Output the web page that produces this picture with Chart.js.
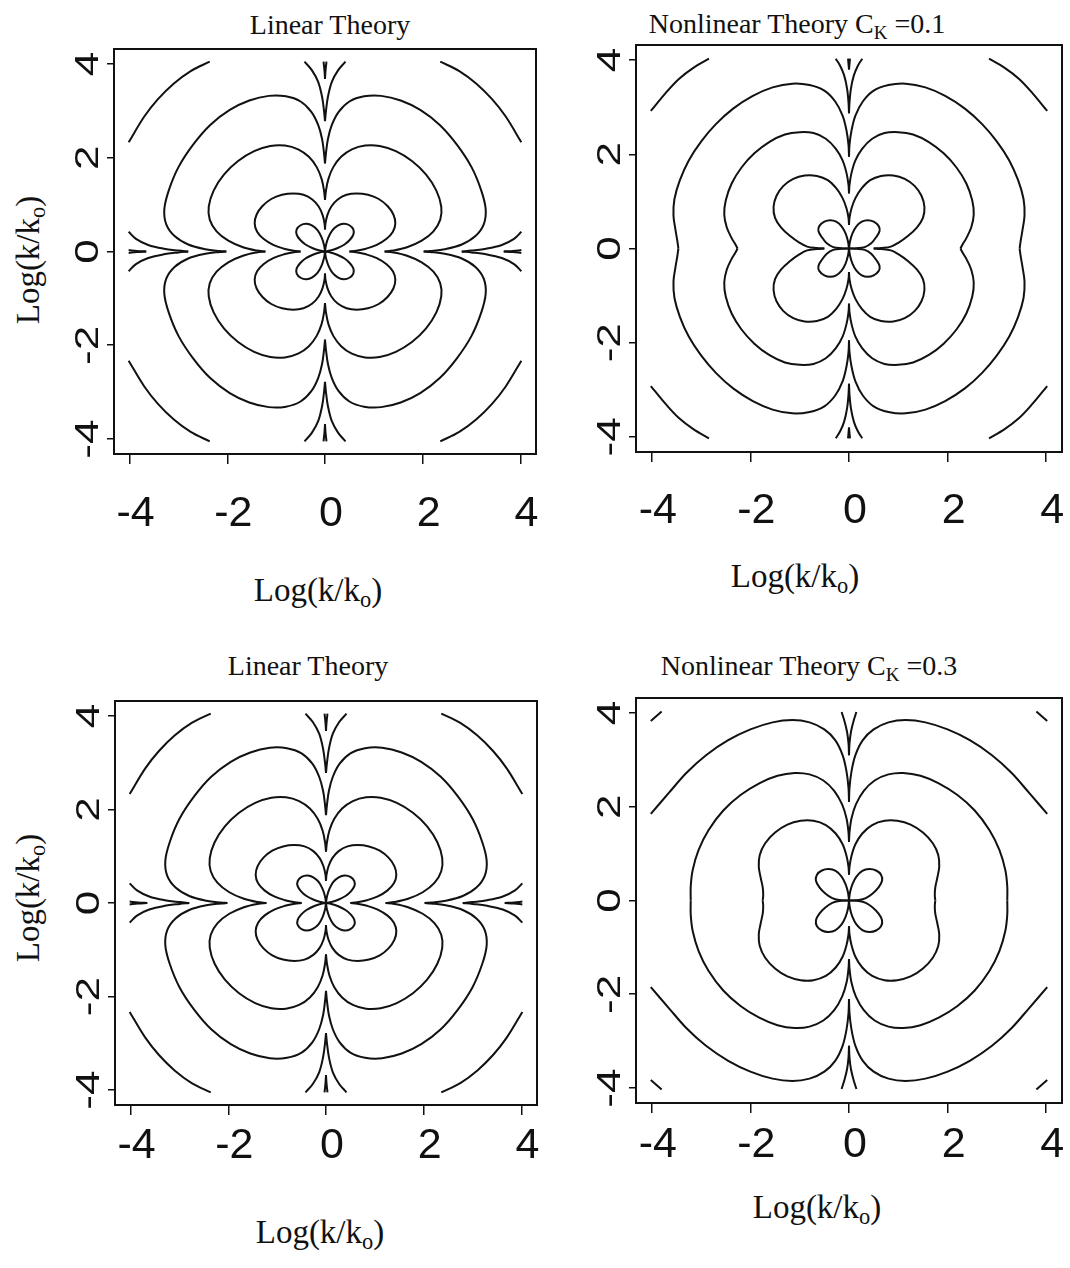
<!DOCTYPE html>
<html>
<head>
<meta charset="utf-8">
<script src="https://cdn.jsdelivr.net/npm/chart.js@4.4.1/dist/chart.umd.min.js"></script>
<style>
  body { margin: 0; background: #fff; width: 1070px; height: 1268px; position: relative; overflow: hidden;
         font-family: "Liberation Serif", "Times New Roman", serif; color: #111; }
  canvas { position: absolute; }
  .lbl { position: absolute; font-size: 28px; line-height: 1; white-space: nowrap; transform: translate(-50%, -50%); }
  .lbl sub { font-size: 0.68em; vertical-align: -0.3em; line-height: 0; }
  .ax { font-size: 33px; }
  .rot { transform: translate(-50%, -50%) rotate(-90deg); }
</style>
</head>
<body>

<div class="lbl" style="left:330px; top:25px">Linear Theory</div>
<div class="lbl" style="left:797px; top:24px">Nonlinear Theory C<sub>K</sub> =0.1</div>
<div class="lbl" style="left:308px; top:666px">Linear Theory</div>
<div class="lbl" style="left:809px; top:666px">Nonlinear Theory C<sub>K</sub> =0.3</div>

<div class="lbl ax" style="left:318px; top:590px">Log(k/k<sub>o</sub>)</div>
<div class="lbl ax" style="left:795px; top:576px">Log(k/k<sub>o</sub>)</div>
<div class="lbl ax" style="left:320px; top:1232px">Log(k/k<sub>o</sub>)</div>
<div class="lbl ax" style="left:817px; top:1207px">Log(k/k<sub>o</sub>)</div>
<div class="lbl ax rot" style="left:28px; top:260px">Log(k/k<sub>o</sub>)</div>
<div class="lbl ax rot" style="left:28px; top:898px">Log(k/k<sub>o</sub>)</div>

<canvas id="c1"></canvas>
<canvas id="c2"></canvas>
<canvas id="c3"></canvas>
<canvas id="c4"></canvas>

<script>
const tickValues = [-4, -2, 0, 2, 4];
const tickLabels = ['-4', '-2', '0', '2', '4'];
const axisMin = -4.32;
const axisMax = 4.32;

// Contour lines, upper-right quadrant only; the plots are mirror symmetric
// about both axes so the other three quadrants are flipped copies.

// linear theory
const linPetal = [[0,0],[0.02,0.14],[0.07,0.3],[0.15,0.45],[0.26,0.55],[0.38,0.59],[0.5,0.56],[0.58,0.47],[0.58,0.36],[0.51,0.25],[0.4,0.15],[0.25,0.07],[0.11,0.02],[0,0]];
const linLobe2 = [[0,0.47],[0.01,0.6],[0.05,0.78],[0.13,0.96],[0.26,1.11],[0.44,1.21],[0.65,1.24],[0.88,1.21],[1.1,1.12],[1.28,0.97],[1.4,0.79],[1.44,0.6],[1.39,0.42],[1.26,0.27],[1.06,0.14],[0.84,0.06],[0.64,0.015],[0.5,0]];
const linLobe3 = [[0,1.1],[0.02,1.3],[0.07,1.55],[0.17,1.8],[0.33,2.02],[0.55,2.18],[0.82,2.26],[1.12,2.25],[1.45,2.14],[1.78,1.93],[2.07,1.64],[2.28,1.3],[2.38,0.96],[2.36,0.68],[2.22,0.43],[1.98,0.23],[1.68,0.09],[1.4,0.02],[1.22,0]];
const linLobe4 = [[0,1.88],[0.02,2.1],[0.06,2.4],[0.14,2.7],[0.28,2.98],[0.5,3.2],[0.8,3.31],[1.15,3.32],[1.55,3.22],[1.95,3.02],[2.35,2.7],[2.7,2.28],[3.0,1.8],[3.2,1.3],[3.29,0.9],[3.25,0.58],[3.08,0.33],[2.8,0.15],[2.45,0.05],[2.15,0.01],[2.02,0]];
const linCuspV = [[0,2.78],[0.02,3.0],[0.06,3.3],[0.14,3.62],[0.27,3.87],[0.42,4.05]];
const linCuspH = [[2.8,0],[3.0,0.02],[3.3,0.06],[3.62,0.14],[3.87,0.27],[4.02,0.42]];
const linArc = [[2.36,4.05],[2.75,3.85],[3.1,3.58],[3.42,3.25],[3.7,2.88],[4.02,2.33]];
const linTipV = [[0,3.68],[0.01,3.85],[0.03,4.05]];
const linTipH = [[3.66,0],[3.85,0.01],[4.02,0.03]];

// nonlinear theory, C_K = 0.1
const nl1Petal = [[0,0],[0.02,0.15],[0.07,0.32],[0.15,0.47],[0.26,0.57],[0.38,0.6],[0.5,0.57],[0.6,0.48],[0.62,0.37],[0.55,0.24],[0.45,0.11],[0.32,0.03],[0.15,0.006],[0,0]];
const nl1Lobe2 = [[0,0.5],[0.01,0.65],[0.05,0.85],[0.13,1.07],[0.26,1.28],[0.43,1.45],[0.65,1.54],[0.9,1.55],[1.13,1.48],[1.33,1.33],[1.47,1.12],[1.53,0.88],[1.5,0.65],[1.38,0.45],[1.2,0.27],[1.0,0.12],[0.85,0.04],[0.65,0.01],[0.5,0]];
const nl1Lobe3 = [[0,1.17],[0.01,1.35],[0.05,1.6],[0.13,1.87],[0.27,2.12],[0.47,2.33],[0.72,2.45],[1.0,2.47],[1.3,2.42],[1.62,2.26],[1.92,2.02],[2.18,1.72],[2.38,1.38],[2.5,1.02],[2.53,0.72],[2.48,0.45],[2.38,0.22],[2.3,0.08],[2.26,0]];
const nl1Lobe4 = [[0,1.95],[0.01,2.2],[0.05,2.5],[0.13,2.82],[0.28,3.12],[0.5,3.35],[0.8,3.47],[1.15,3.5],[1.55,3.42],[1.95,3.24],[2.35,2.97],[2.7,2.64],[3.0,2.27],[3.25,1.87],[3.43,1.45],[3.54,1.05],[3.56,0.7],[3.52,0.4],[3.48,0.15],[3.46,0]];
const nl1CuspV = [[0,2.87],[0.01,3.1],[0.04,3.4],[0.1,3.68],[0.18,3.88],[0.27,4.03]];
const nl1Arc = [[2.84,4.03],[3.15,3.84],[3.45,3.6],[3.72,3.3],[4.02,2.92]];
const nl1TipV = [[0,3.8],[0.01,3.92],[0.02,4.03]];

// nonlinear theory, C_K = 0.3
const nl3Petal = [[0,0],[0.02,0.17],[0.07,0.35],[0.15,0.51],[0.27,0.63],[0.41,0.67],[0.55,0.64],[0.65,0.55],[0.67,0.42],[0.6,0.28],[0.48,0.15],[0.34,0.05],[0.2,0.01],[0,0]];
const nl3Lobe2 = [[0,0.55],[0.01,0.72],[0.05,0.95],[0.13,1.2],[0.27,1.43],[0.47,1.61],[0.72,1.7],[0.98,1.7],[1.25,1.62],[1.5,1.45],[1.7,1.22],[1.81,0.97],[1.83,0.72],[1.79,0.48],[1.75,0.28],[1.74,0.12],[1.75,0]];
const nl3Lobe3 = [[0,1.25],[0.01,1.45],[0.05,1.75],[0.14,2.05],[0.3,2.34],[0.52,2.56],[0.8,2.69],[1.1,2.72],[1.45,2.66],[1.82,2.5],[2.2,2.25],[2.55,1.92],[2.85,1.5],[3.05,1.08],[3.17,0.65],[3.21,0.3],[3.21,0]];
const nl3Lobe4 = [[0,2.1],[0.01,2.4],[0.05,2.75],[0.13,3.1],[0.28,3.42],[0.5,3.65],[0.8,3.8],[1.15,3.85],[1.55,3.8],[2.0,3.65],[2.45,3.42],[2.9,3.1],[3.3,2.72],[3.65,2.3],[4.02,1.85]];
const nl3CuspV = [[0,3.1],[0.01,3.35],[0.04,3.6],[0.09,3.82],[0.15,4.02]];
const nl3Corner = [[3.8,4.03],[4.02,3.83]];

const linearCurves = [linPetal, linLobe2, linLobe3, linLobe4, linCuspV, linCuspH, linArc, linTipV, linTipH];

const panels = [
  { id: 'c1', frame: { l: 114, t: 49, r: 536, b: 454 }, curves: linearCurves, labelGap: 60 },
  { id: 'c2', frame: { l: 636, t: 45, r: 1062, b: 452 }, curves: [nl1Petal, nl1Lobe2, nl1Lobe3, nl1Lobe4, nl1CuspV, nl1Arc, nl1TipV], labelGap: 59 },
  { id: 'c3', frame: { l: 115, t: 701, r: 537, b: 1105 }, curves: linearCurves, labelGap: 41 },
  { id: 'c4', frame: { l: 636, t: 698, r: 1062, b: 1103 }, curves: [nl3Petal, nl3Lobe2, nl3Lobe3, nl3Lobe4, nl3CuspV, nl3Corner], labelGap: 42 }
];

const signs = [[1, 1], [-1, 1], [-1, -1], [1, -1]];

function buildDatasets(curves) {
  const sets = [];
  curves.forEach(c => {
    signs.forEach(([sx, sy]) => {
      sets.push({
        data: c.map(([x, y]) => ({ x: sx * x, y: sy * y })),
        showLine: true,
        borderColor: '#111',
        borderWidth: 2,
        pointRadius: 0,
        tension: 0.35,
        fill: false
      });
    });
  });
  return sets;
}

// full box round the plot plus the big tick labels (y labels turned on their side)
const framePlugin = {
  id: 'frameLabels',
  afterDraw(chart, args, opts) {
    const { ctx, chartArea: a, scales } = chart;
    ctx.save();
    ctx.strokeStyle = '#111';
    ctx.lineWidth = 2;
    ctx.strokeRect(a.left, a.top, a.right - a.left, a.bottom - a.top);
    ctx.fillStyle = '#111';
    ctx.textAlign = 'center';
    ctx.textBaseline = 'middle';
    tickValues.forEach((v, i) => {
      const px = scales.x.getPixelForValue(v);
      ctx.save();
      ctx.translate(px + 6, a.bottom + opts.labelGap);
      ctx.font = '43px "Liberation Sans", Arial, sans-serif';
      ctx.fillText(tickLabels[i], 0, 0);
      ctx.restore();

      const py = scales.y.getPixelForValue(v);
      ctx.save();
      ctx.translate(a.left - 25, py);
      ctx.rotate(-Math.PI / 2);
      ctx.scale(1.3, 1);
      ctx.font = '34px "Liberation Sans", Arial, sans-serif';
      ctx.fillText(tickLabels[i], 0, 0);
      ctx.restore();
    });
    ctx.restore();
  }
};

function axis(tickLen) {
  return {
    type: 'linear',
    min: axisMin,
    max: axisMax,
    afterBuildTicks: s => { s.ticks = tickValues.map(v => ({ value: v })); },
    grid: { display: true, drawOnChartArea: false, drawTicks: true, tickLength: tickLen, color: '#111', lineWidth: 1.5 },
    border: { display: false },
    ticks: { display: false }
  };
}

panels.forEach(p => {
  const f = p.frame;
  const w = f.r - f.l, h = f.b - f.t;
  const canvas = document.getElementById(p.id);
  canvas.width = w + 80;
  canvas.height = h + 110;
  canvas.style.left = (f.l - 60) + 'px';
  canvas.style.top = (f.t - 10) + 'px';

  const xAxis = axis(10);
  xAxis.afterFit = s => { s.height = 40; };
  const yAxis = axis(7);
  yAxis.afterFit = s => { s.width = 50; };

  new Chart(canvas, {
    type: 'scatter',
    data: { datasets: buildDatasets(p.curves) },
    options: {
      responsive: false,
      animation: false,
      events: [],
      layout: { padding: { left: 10, top: 10, right: 20, bottom: 60 } },
      plugins: {
        legend: { display: false },
        tooltip: { enabled: false },
        frameLabels: { labelGap: p.labelGap }
      },
      scales: { x: xAxis, y: yAxis }
    },
    plugins: [framePlugin]
  });
});
</script>
</body>
</html>
